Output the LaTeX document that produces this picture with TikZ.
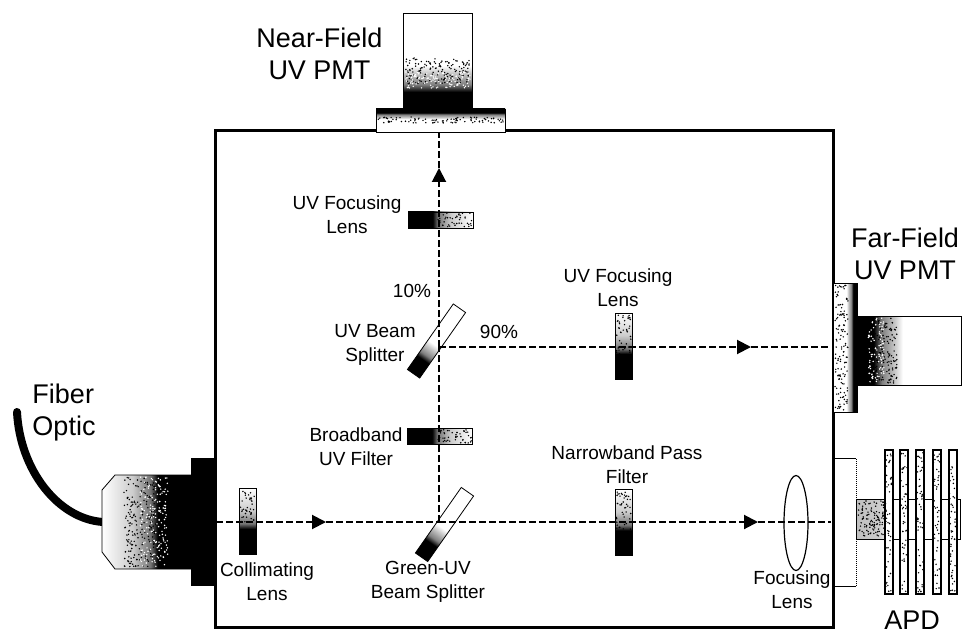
\documentclass[tikz,border=0pt]{standalone}
\usepackage{fontspec}
\setmainfont{Liberation Sans}
\usepackage{tikz}
\usetikzlibrary{arrows.meta,positioning,shapes.geometric}
\pgfdeclarehorizontalshading{fadelong}{100bp}{color(0bp)=(black);color(25bp)=(black);color(44bp)=(black);
  color(48bp)=(black!55);color(58bp)=(black!20);color(75bp)=(white);color(100bp)=(white)}
\pgfdeclarehorizontalshading{fadeshort}{100bp}{color(0bp)=(black);color(25bp)=(black);color(33bp)=(black);
  color(37bp)=(black!50);color(43bp)=(black!22);color(47bp)=(white);color(100bp)=(white)}
\pgfdeclarehorizontalshading{fadetube}{100bp}{color(0bp)=(black!25);color(25bp)=(black!25);color(36bp)=(black!20);
  color(41bp)=(white);color(100bp)=(white)}
\newcommand{\speckle}[6]{\foreach \n in {1,...,#5}
  \fill[#6] ({(#1)+rnd*((#3)-(#1))},{(#2)+rnd*((#4)-(#2))}) circle (.8);}
\tikzset{
  chassis/.style={draw=black,fill=white,line width=3pt,inner sep=0pt,minimum width=618pt,minimum height=496pt},
  optic/.style={draw=black,line width=.8pt,inner sep=0pt,shading=fadelong},
  lensh/.style={optic,minimum width=65pt,minimum height=16pt,shading angle=0},
  lensv/.style={optic,minimum width=17pt,minimum height=66pt,shading angle=90},
  splitter/.style={optic,shading=fadeshort,minimum width=80pt,minimum height=15pt,rotate=55,shading angle=55},
  mount/.style={draw=black,line width=.8pt,inner sep=0pt,shading=fadeshort},
  plate/.style={draw=black,line width=2pt,fill=white,inner sep=0pt,minimum width=8pt,minimum height=144pt},
  beam/.style={line width=2pt,dash pattern=on 7pt off 3pt},
  beamtip/.style={beam,-{Triangle[length=14pt,width=14pt]}},
  lbl/.style={font=\fontsize{19}{24}\selectfont,inner sep=0pt,align=center},
  lblbig/.style={font=\fontsize{27}{32}\selectfont,inner sep=0pt,align=center},
}
\begin{document}
\begin{tikzpicture}[x=1pt,y=-1pt]
  \useasboundingbox (0,0) rectangle (963,636);
  \pgfmathsetseed{42}

  \node[chassis] (box) at (524,379) {};

  \node[mount,shading angle=90,minimum width=69pt,minimum height=94pt] (nfpmt) at (437.5,60) {};
  \node[mount,shading angle=270,minimum width=129pt,minimum height=23pt] (nfmount) at (440.5,120.5) {};
  \node[mount,shading angle=0,minimum width=104pt,minimum height=69pt] (ffpmt) at (909,350.5) {};
  \node[mount,shading angle=180,minimum width=24pt,minimum height=129pt] (ffmount) at (845,347.5) {};
  \speckle{405}{58}{470}{84}{150}{black}
  \speckle{405}{72}{470}{88}{110}{white}
  \speckle{378}{117}{503}{123}{90}{black}
  \speckle{875}{318}{897}{383}{130}{black}
  \speckle{868}{318}{884}{383}{90}{white}
  \speckle{835}{285}{848}{410}{130}{black}

  \node[lensh] (uvlens) at (440.5,220) {};
  \node[lensh] (bbfilter) at (440,436) {};
  \node[lensv] (fflens) at (623.5,346) {};
  \node[lensv] (nbfilter) at (623.5,522.5) {};
  \node[lensv] (collens) at (247.5,521) {};
  \speckle{438}{213}{472}{227}{45}{black}
  \speckle{438}{429}{472}{443}{45}{black}
  \speckle{616}{315}{631}{355}{45}{black}
  \speckle{616}{492}{631}{530}{45}{black}
  \speckle{240}{490}{255}{522}{40}{black}
  \node[splitter] (uvsplit) at (436.5,341) {};
  \node[splitter] (gusplit) at (444.5,524.5) {};
  \node[draw=black,fill=none,ellipse,line width=1.2pt,inner sep=0pt,minimum width=24pt,minimum height=95pt] (foclens) at (796,523) {};

  \fill[black] (191,458) rectangle (214,586);
  \coordinate (fibend) at (17,412);
  \coordinate (fibin) at (103,522);
  \draw[line width=8pt,line cap=round] (fibend) .. controls (20,470) and (58,519) .. (fibin);
  \draw[line width=.8pt,shading=fadelong,shading angle=180]
    (115,475) -- (192,475) -- (192,569) -- (115,569) -- (102,552) -- (102,490) -- cycle;
  \speckle{124}{477}{160}{567}{220}{black}
  \speckle{140}{477}{168}{567}{170}{white}

  \coordinate (colin) at (216,522);
  \coordinate (coltip) at (326,522);
  \coordinate (gucross) at (439,522);
  \coordinate (nbtip) at (758,522);
  \coordinate (apdin) at (831,522);
  \coordinate (uvcross) at (439,347);
  \coordinate (nftip) at (439,168);
  \coordinate (nfin) at (439,133);
  \coordinate (fftip) at (751,347);
  \coordinate (ffin) at (831,347);

  \draw[beamtip] (colin) -- (coltip);
  \draw[beam] (coltip) -- (gucross);
  \draw[beamtip] (gucross) -- (nbtip);
  \draw[beam] (nbtip) -- (apdin);
  \draw[beam] (gucross) -- (uvcross);
  \draw[beamtip] (uvcross) -- (nftip);
  \draw[beam] (nftip) -- (nfin);
  \draw[beamtip] (uvcross) -- (fftip);
  \draw[beam] (fftip) -- (ffin);

  \node[inner sep=0pt,minimum width=23pt,minimum height=127pt] (apdmount) at (844.5,522.5) {};
  \draw[line width=1pt] (apdmount.north west) -- (apdmount.north east);
  \draw[line width=1pt] (apdmount.south west) -- (apdmount.south east);
  \draw[line width=1pt,densely dotted] (apdmount.north east) -- (apdmount.south east);
  \node[draw=black,line width=1pt,inner sep=0pt,shading=fadetube,minimum width=104pt,minimum height=40pt] (apdtube) at (908,519) {};
  \speckle{858}{501}{884}{537}{110}{black}
  \foreach \i/\px in {1/888.5,2/904,3/920,4/936.5,5/952.5}{
    \node[plate] (plate\i) at (\px,521.5) {};
    \speckle{\px-3}{451}{\px+3}{592}{50}{black}
  }

  \node[lblbig] (nflabel) at (319.5,53.5) {Near-Field\\UV PMT};
  \node[lblbig] (fflabel) at (905,254) {Far-Field\\UV PMT};
  \node[lblbig,align=left] (fiblabel) at (64,413) {Fiber\\Optic};
  \node[lblbig] (apdlabel) at (912,620) {APD};
  \node[lbl] (t1) at (347,215) {UV Focusing\\Lens};
  \node[lbl] (t2) at (412,291) {10\%};
  \node[lbl] (t3) at (499,332) {90\%};
  \node[lbl] (t4) at (375,344.5) {UV Beam\\Splitter};
  \node[lbl] (t5) at (618,287.5) {UV Focusing\\Lens};
  \node[lbl] (t6) at (356,446.5) {Broadband\\UV Filter};
  \node[lbl] (t7) at (627,464.5) {Narrowband Pass\\Filter};
  \node[lbl] (t8) at (267,582) {Collimating\\Lens};
  \node[lbl] (t9) at (428,581.5) {Green-UV\\Beam Splitter};
  \node[lbl] (t10) at (792,590) {Focusing\\Lens};
\end{tikzpicture}
\end{document}
